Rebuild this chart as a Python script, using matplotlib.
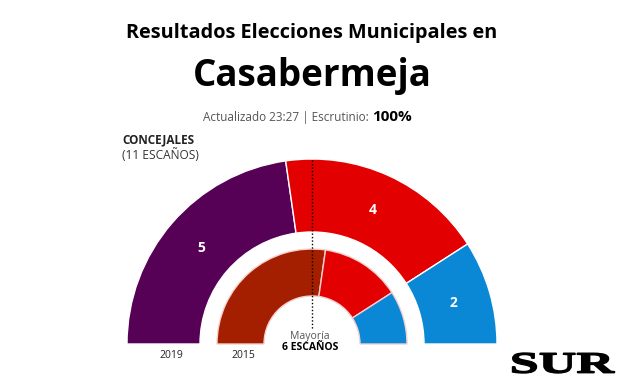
import matplotlib
matplotlib.use('Agg')
from matplotlib import pyplot as plt
from matplotlib.textpath import TextPath
from matplotlib.patches import PathPatch
from matplotlib.font_manager import FontProperties
from matplotlib.transforms import Affine2D
import numpy as np

plt.rcParams['font.family'] = ['Open Sans', 'DejaVu Sans']

# Data
parties_colors_2019 = ['#560056', '#E30000', '#0A88D6']
seats_2019 = [5, 4, 2]
parties_colors_2015 = ['#A31F00', '#E30000', '#0A88D6']
seats_2015 = [6, 3, 2]
total_seats = 11
majority = 6
labels_2019 = ['5', '4', '2']

W, H = 624, 385
fig = plt.figure(figsize=(W / 100, H / 100), dpi=100)
ax = fig.add_axes([0, 0, 1, 1])


def Y(y):  # pixel row -> data y
    return H - y


cx, cy = 312, Y(344)

# outer ring (2019), bottom half left invisible
w, _ = ax.pie(seats_2019 + [sum(seats_2019)], colors=parties_colors_2019 + ['none'],
              startangle=180, counterclock=False, radius=185, center=(cx, cy),
              wedgeprops=dict(width=73, edgecolor='white', linewidth=1))
w[-1].set_edgecolor('none')
# inner ring (2015)
w, _ = ax.pie(seats_2015 + [sum(seats_2015)], colors=parties_colors_2015 + ['none'],
              startangle=180, counterclock=False, radius=95, center=(cx, cy),
              wedgeprops=dict(width=47, edgecolor='#f4d0d0', linewidth=1))
w[-1].set_edgecolor('none')

# seat labels
start = 180
for n, lab in zip(seats_2019, labels_2019):
    mid = start - n / total_seats * 90
    a = np.radians(mid)
    ax.text(cx + 147 * np.cos(a), cy + 147 * np.sin(a), lab, color='white',
            fontsize=10, fontweight='bold', ha='center', va='center')
    start -= n / total_seats * 180

# majority line
ax.plot([cx, cx], [Y(160), Y(330)], color='black', linestyle=(0, (1, 1.5)), linewidth=1)
ax.text(cx - 2, Y(336), 'Mayoría', color='#555555', fontsize=7.5, ha='center', va='center')
ax.text(cx - 2, Y(348), f'{majority} ESCAÑOS', color='black', fontsize=7.5,
        fontweight='bold', ha='center', va='center')

ax.text(171, Y(355), '2019', fontsize=7.5, color='#222222', ha='center', va='center')
ax.text(243, Y(355), '2015', fontsize=7.5, color='#222222', ha='center', va='center')

# titles
ax.text(312, Y(33), 'Resultados Elecciones Municipales en', fontsize=14.3,
        fontweight='bold', ha='center', va='center', color='black')
ax.text(312, Y(76), 'Casabermeja', fontsize=26.5, fontweight='bold',
        ha='center', va='center', color='black')
ax.text(369, Y(117), 'Actualizado 23:27 | Escrutinio:', fontsize=8.5,
        color='#555555', ha='right', va='center')
ax.text(372, Y(117), '100%', fontsize=11, fontweight='bold',
        color='black', ha='left', va='center')

ax.text(122, Y(140), 'CONCEJALES', fontsize=8.5, fontweight='bold',
        color='#222222', ha='left', va='center')
ax.text(122, Y(155), f'({total_seats} ESCAÑOS)', fontsize=8.6,
        color='#333333', ha='left', va='center')

# SUR logo, stretched horizontally
tp = TextPath((0, 0), 'SUR', size=28,
              prop=FontProperties(family='Liberation Serif', weight='bold'))
bb = tp.get_extents()
sx = 102 / bb.width
sy = 20 / bb.height
tr = Affine2D().translate(-bb.x0, -bb.y0).scale(sx, sy).translate(512.5, Y(373))
ax.add_patch(PathPatch(tr.transform_path(tp), facecolor='black', edgecolor='black',
                       linewidth=1.0))

ax.set_xlim(0, W)
ax.set_ylim(0, H)
ax.set_aspect('auto')
ax.axis('off')

fig.savefig('out.png', dpi=100)
